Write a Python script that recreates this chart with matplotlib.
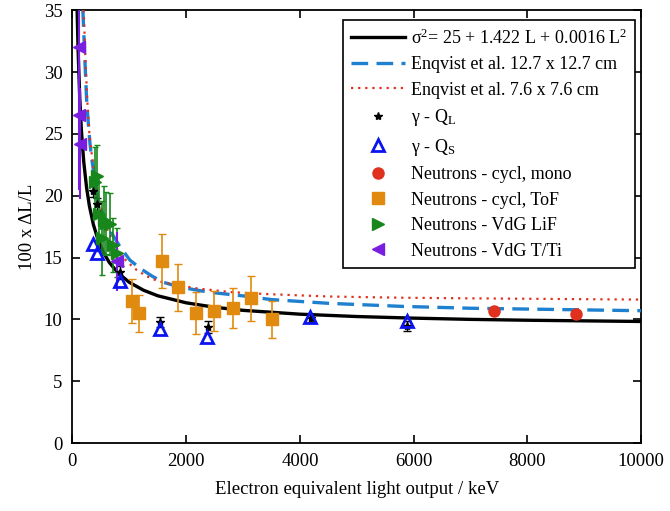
import matplotlib
matplotlib.use("Agg")
import matplotlib.pyplot as plt

plt.rcParams['font.family'] = ['Liberation Serif', 'DejaVu Serif']
plt.rcParams['mathtext.fontset'] = 'custom'
plt.rcParams['mathtext.rm'] = 'Liberation Serif'
plt.rcParams['mathtext.it'] = 'Liberation Serif:italic'

# ---- data ----
fit_x = [85, 100, 130, 160, 200, 250, 300, 370, 450, 550, 650, 800, 1000, 1250, 1500,
         2000, 2500, 3000, 4000, 5000, 6000, 7000, 8000, 9000, 10000]
fit_y = [34.8, 31.9, 27.9, 25.2, 22.75, 20.65, 19.16, 17.66, 16.46, 15.38, 14.6, 13.77, 13.0,
         12.36, 11.91, 11.34, 10.98, 10.73, 10.42, 10.23, 10.10, 10.0, 9.93, 9.88, 9.83]

enq127_x = [185, 220, 250, 278, 310, 340, 395, 453, 510, 600, 700, 835, 1010, 1200, 1400,
            1600, 1900, 2400, 3000, 3500, 4500, 5800, 7000, 8500, 10000]
enq127_y = [35.0, 31.0, 27.8, 26.0, 24.2, 23.0, 21.3, 19.7, 18.8, 17.8, 16.9, 15.9, 14.8, 14.1,
            13.5, 13.0, 12.6, 12.2, 11.9, 11.6, 11.3, 11.05, 10.9, 10.8, 10.7]

enq76_x = [200, 230, 265, 300, 350, 410, 470, 540, 620, 720, 850, 1000, 1130, 1300, 1500,
           1800, 2200, 2800, 3400, 4500, 5800, 7000, 8500, 10000]
enq76_y = [35.0, 31.0, 27.5, 25.0, 23.0, 21.0, 19.6, 18.3, 17.2, 16.2, 15.2, 14.5, 14.0, 13.5,
           13.1, 12.8, 12.5, 12.2, 12.05, 11.85, 11.75, 11.7, 11.65, 11.6]

gql_x = [366, 425, 835, 1538, 2376, 4204, 5884]
gql_y = [20.4, 19.3, 13.8, 9.8, 9.4, 10.1, 9.5]
gql_err = [0.5, 0.5, 0.5, 0.4, 0.5, 0.3, 0.4]

gqs_x = [366, 425, 835, 1538, 2370, 4174, 5884]
gqs_y = [16.1, 15.4, 13.1, 9.25, 8.6, 10.2, 9.9]

mono_x = [7413, 8849]
mono_y = [10.7, 10.45]

tof_x = [1040, 1175, 1568, 1860, 2165, 2492, 2826, 3149, 3512]
tof_y = [11.5, 10.5, 14.7, 12.6, 10.5, 10.7, 10.9, 11.7, 10.0]
tof_err = [1.8, 1.5, 2.2, 1.9, 1.7, 1.6, 1.6, 1.8, 1.5]

lif_x = [395, 425, 470, 513, 560, 600, 660, 720, 780]
lif_y = [21.1, 21.6, 18.5, 16.6, 18.0, 17.8, 17.7, 16.0, 15.4]
lif_err = [2.8, 2.5, 3.0, 3.0, 2.8, 2.5, 2.5, 2.2, 2.0]

tti_x = [120, 125, 135, 790]
tti_y = [32.0, 26.5, 24.2, 14.7]
tti_err = [3.0, 6.0, 4.5, 2.4]

c_blue = '#1f80d0'
c_red = '#e0301e'
c_orange = '#e08a10'
c_green = '#17871c'
c_purple = '#7a1fe0'
c_tri = '#0a14f0'

fig = plt.figure(figsize=(6.7, 5.11), dpi=100)
ax = fig.add_axes([0.108, 0.133, 0.849, 0.847])

# curves
ax.plot(fit_x, fit_y, color='black', lw=2.4, zorder=3,
        label='σ$^2$= 25 + 1.422 L + 0.0016 L$^2$')
ax.plot(enq127_x, enq127_y, color=c_blue, lw=2.4, ls=(0, (5, 2.5)), zorder=3,
        label='Enqvist et al. 12.7 x 12.7 cm')
ax.plot(enq76_x, enq76_y, color=c_red, lw=1.6, ls=(0, (1, 2.2)), zorder=3,
        label='Enqvist et al. 7.6 x 7.6 cm')

# error bars
ax.errorbar(gql_x, gql_y, yerr=gql_err, fmt='none', ecolor='black', elinewidth=1,
            capsize=3, zorder=4)
ax.errorbar(tof_x, tof_y, yerr=tof_err, fmt='none', ecolor=c_orange, elinewidth=1.2,
            capsize=3, zorder=4)
ax.errorbar(lif_x, lif_y, yerr=lif_err, fmt='none', ecolor=c_green, elinewidth=1.2,
            capsize=2, zorder=4)
ax.errorbar(tti_x, tti_y, yerr=tti_err, fmt='none', ecolor=c_purple, elinewidth=1.5,
            capsize=0, zorder=4)

# markers
ax.plot(gql_x, gql_y, ls='none', marker='*', ms=6, color='black', zorder=5,
        label='γ - Q$_\\mathrm{L}$')
ax.plot(gqs_x, gqs_y, ls='none', marker='^', ms=9, mfc='none', mec=c_tri, mew=2, zorder=5,
        label='γ - Q$_\\mathrm{S}$')
ax.plot(mono_x, mono_y, ls='none', marker='o', ms=8, color=c_red, zorder=5,
        label='Neutrons - cycl, mono')
ax.plot(tof_x, tof_y, ls='none', marker='s', ms=9, color=c_orange, zorder=5,
        label='Neutrons - cycl, ToF')
ax.plot(lif_x, lif_y, ls='none', marker='>', ms=9, color=c_green, zorder=5,
        label='Neutrons - VdG LiF')
ax.plot(tti_x, tti_y, ls='none', marker='<', ms=9, color=c_purple, zorder=5,
        label='Neutrons - VdG T/Ti')

ax.set_xlim(0, 10000)
ax.set_ylim(0, 35)
ax.set_xticks([0, 2000, 4000, 6000, 8000, 10000])
ax.set_yticks([0, 5, 10, 15, 20, 25, 30, 35])
ax.tick_params(direction='in', top=True, right=True, length=6, width=1.2,
               labelsize=13.5, pad=7)
for s in ax.spines.values():
    s.set_linewidth(1.3)

ax.set_xlabel('Electron equivalent light output / keV', fontsize=13.5, labelpad=8)
ax.set_ylabel('100 x ΔL/L', fontsize=13.5, labelpad=6)

leg = ax.legend(loc='upper right', bbox_to_anchor=(0.989, 0.977), fontsize=13,
                frameon=True, fancybox=False, edgecolor='black', framealpha=1,
                handlelength=3.0, handletextpad=0.3, labelspacing=0.47,
                borderpad=0.45, borderaxespad=0)
leg.get_frame().set_linewidth(1.2)

fig.savefig('out.png', dpi=100)
